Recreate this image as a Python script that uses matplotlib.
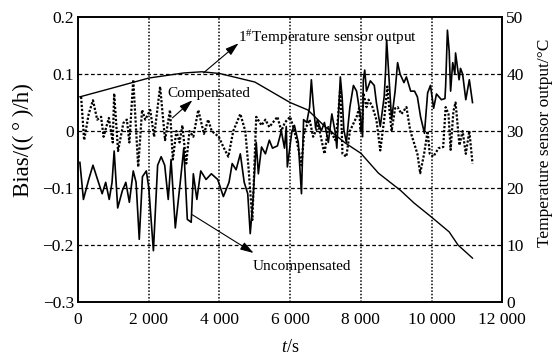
import matplotlib
matplotlib.use("Agg")
import matplotlib.pyplot as plt

plt.rcParams['font.family'] = ['Liberation Serif', 'DejaVu Serif']
plt.rcParams['mathtext.fontset'] = 'custom'
plt.rcParams['mathtext.rm'] = 'Liberation Serif'
plt.rcParams['mathtext.it'] = 'Liberation Serif:italic'
plt.rcParams['axes.unicode_minus'] = True

# ---- data ----
unc_t = [50, 150, 300, 420, 550, 680, 780, 880, 960, 1020, 1120, 1250, 1350, 1450, 1560, 1640,
         1730, 1820, 1930, 2000, 2130, 2250, 2350, 2450, 2550, 2630, 2750, 2890, 2990, 3090,
         3200, 3260, 3360, 3470, 3620, 3770, 3950, 4110, 4270, 4360, 4470, 4590, 4700, 4800,
         4870, 4950, 5040, 5100, 5190, 5300, 5410, 5500, 5640, 5750, 5840, 5890, 5920, 6050,
         6120, 6230, 6320, 6380, 6470, 6550, 6600, 6650, 6720, 6770, 6880, 6970, 7080, 7180,
         7280, 7320, 7420, 7470, 7520, 7590, 7690, 7790, 7880, 7990, 8050, 8070, 8110, 8160,
         8270, 8380, 8440, 8550, 8660, 8700, 8730, 8800, 8870, 8970, 9040, 9110, 9220, 9290,
         9410, 9520, 9600, 9690, 9800, 9890, 9970, 10060, 10140, 10280, 10380, 10400, 10450,
         10500, 10540, 10600, 10660, 10680, 10780, 10820, 10880, 10970, 11070, 11160]
unc_v = [-0.055, -0.12, -0.085, -0.06, -0.085, -0.11, -0.09, -0.12, -0.09, -0.035, -0.135,
         -0.105, -0.09, -0.125, -0.07, -0.09, -0.19, -0.08, -0.07, -0.10, -0.21, -0.06, -0.045,
         -0.06, -0.12, -0.05, -0.17, -0.09, -0.03, -0.155, -0.16, -0.075, -0.12, -0.07, -0.085,
         -0.075, -0.085, -0.115, -0.09, -0.057, -0.068, -0.04, -0.09, -0.11, -0.18, -0.12,
         -0.02, -0.075, -0.028, -0.04, -0.016, -0.03, -0.026, 0.0, -0.03, 0.008, -0.063, 0.0,
         0.01, -0.02, -0.11, 0.02, 0.015, 0.042, 0.09, 0.05, 0.005, 0.02, 0.0, 0.015, -0.02,
         0.03, -0.004, -0.03, 0.095, 0.06, 0.002, -0.02, 0.042, 0.08, 0.07, 0.025, -0.01, 0.09,
         0.107, 0.07, 0.088, 0.08, 0.05, 0.008, 0.06, 0.105, 0.16, 0.09, 0.02, 0.07, 0.12, 0.10,
         0.085, 0.095, 0.07, 0.07, 0.06, 0.025, -0.004, 0.067, 0.08, 0.04, 0.065, 0.055, 0.057,
         0.08, 0.177, 0.14, 0.07, 0.12, 0.10, 0.137, 0.09, 0.11, 0.10, 0.055, 0.09, 0.05]

comp_t = [85, 170, 300, 420, 540, 650, 720, 870, 980, 1020, 1130, 1280, 1380, 1450, 1560, 1700,
          1810, 1900, 2040, 2150, 2320, 2460, 2600, 2680, 2780, 2870, 2950, 3060, 3150, 3260,
          3400, 3560, 3680, 3780, 3980, 4110, 4250, 4390, 4590, 4730, 4820, 4930, 5040, 5190,
          5300, 5410, 5640, 5750, 5850, 6000, 6120, 6230, 6320, 6400, 6550, 6650, 6800, 6970,
          7080, 7280, 7350, 7420, 7480, 7590, 7690, 7880, 7950, 7990, 8050, 8070, 8160, 8220,
          8330, 8440, 8550, 8660, 8750, 8800, 8870, 8970, 9040, 9150, 9290, 9400, 9500, 9600,
          9680, 9790, 9890, 9950, 10050, 10200, 10330, 10400, 10480, 10540, 10620, 10680,
          10790, 10880, 10970, 11070, 11160]
comp_v = [0.06, -0.016, 0.03, 0.054, 0.02, 0.025, -0.01, 0.023, -0.02, 0.066, -0.035, 0.014,
          0.02, -0.02, 0.09, -0.063, 0.037, 0.02, 0.037, -0.01, 0.078, -0.016, 0.037, -0.05,
          0.0, -0.02, 0.01, -0.057, 0.0, -0.01, 0.037, -0.005, 0.02, 0.0, -0.01, -0.028, -0.045,
          0.0, 0.03, 0.0, -0.063, -0.156, 0.025, 0.01, 0.02, 0.007, 0.025, 0.0, 0.015, 0.025,
          0.0, -0.03, -0.06, 0.0, 0.02, -0.01, 0.01, -0.04, 0.007, -0.016, 0.02, 0.078, -0.04,
          -0.045, 0.0, 0.025, 0.04, 0.0, 0.02, 0.067, 0.042, 0.055, 0.042, 0.02, -0.034, 0.02,
          0.078, 0.042, 0.0, 0.04, 0.042, 0.03, 0.042, 0.0, -0.02, -0.04, -0.074, -0.04, 0.0,
          -0.04, -0.045, -0.03, -0.028, 0.042, 0.03, -0.033, 0.035, 0.05, -0.025, 0.0, -0.04,
          0.0, -0.057]

temp_t = [50, 1000, 2000, 3000, 3500, 4000, 5000, 6000, 6500, 7000, 7560, 8000, 8500, 9120,
          9500, 10000, 10500, 10750, 11160]
temp_v = [36.0, 37.6, 39.3, 40.2, 40.4, 40.1, 38.6, 35.0, 33.7, 30.7, 27.9, 26.1, 22.6, 19.6,
          17.4, 14.9, 12.3, 10.0, 7.7]

x_ticks = [0, 2000, 4000, 6000, 8000, 10000, 12000]
x_labels = ["0", "2 000", "4 000", "6 000", "8 000", "10 000", "12 000"]
y_ticks = [-0.3, -0.2, -0.1, 0, 0.1, 0.2]
y_labels = ["\u22120.3", "\u22120.2", "\u22120.1", "0", "0.1", "0.2"]
t_ticks = [0, 10, 20, 30, 40, 50]

# ---- figure ----
fig = plt.figure(figsize=(5.58, 3.63), dpi=100)
ax = fig.add_axes([0.14, 0.168, 0.76, 0.785])
ax2 = ax.twinx()

ax.set_xlim(0, 12000)
ax.set_ylim(-0.3, 0.2)
ax2.set_ylim(0, 50)

for y in [-0.2, -0.1, 0, 0.1]:
    ax.axhline(y, color='black', lw=0.9, ls=(0, (3, 2)), zorder=1)
for x in [2000, 4000, 6000, 8000, 10000]:
    ax.axvline(x, color='black', lw=1.1, ls=(0, (1, 1.2)), zorder=1)

ax.plot(comp_t, comp_v, color='black', lw=1.6, ls=(0, (1, 0.8)), zorder=3)
ax.plot(unc_t, unc_v, color='black', lw=1.2, zorder=4)
ax2.plot(temp_t, temp_v, color='black', lw=1.0, zorder=4)

ax.set_xticks(x_ticks)
ax.set_xticklabels(x_labels)
ax.set_yticks(y_ticks)
ax.set_yticklabels(y_labels)
ax2.set_yticks(t_ticks)
ax2.set_yticklabels([str(v) for v in t_ticks])

ax.tick_params(axis='x', length=0, labelsize=12.5, pad=7)
ax.tick_params(axis='y', length=0, labelsize=12.5, pad=3)
ax2.tick_params(length=0, labelsize=12.5, pad=3)
for a in (ax, ax2):
    for s in a.spines.values():
        s.set_linewidth(1.2)

ax.set_xlabel("$t$/s", fontsize=13, labelpad=8)
ax.set_ylabel("Bias/((\u2009\u00b0\u2009)/h)", fontsize=16.5)
ax.yaxis.set_label_coords(-0.105, 0.57)
ax2.set_ylabel("Temperature sensor output/\u00b0C", fontsize=12.5)
ax2.yaxis.set_label_coords(1.082, 0.56)

ap = dict(arrowstyle='-|>,head_length=0.8,head_width=0.25', color='black', lw=0.8,
          shrinkA=0, shrinkB=0)
ax.annotate("", xy=(4539, 0.154), xytext=(3546, 0.102), arrowprops=ap, zorder=6)
ax.text(4510, 0.156, "1$^{\\#}$Temperature sensor output", fontsize=11, ha='left', va='baseline')
ax.annotate("", xy=(3234, 0.054), xytext=(2667, 0.023), arrowprops=ap, zorder=6)
ax.text(2525, 0.06, "Compensated", fontsize=11, ha='left', va='baseline')
ax.annotate("", xy=(4965, -0.214), xytext=(3234, -0.147), arrowprops=ap, zorder=6)
ax.text(4936, -0.244, "Uncompensated", fontsize=11, ha='left', va='baseline')

fig.savefig("out.png", dpi=100)
